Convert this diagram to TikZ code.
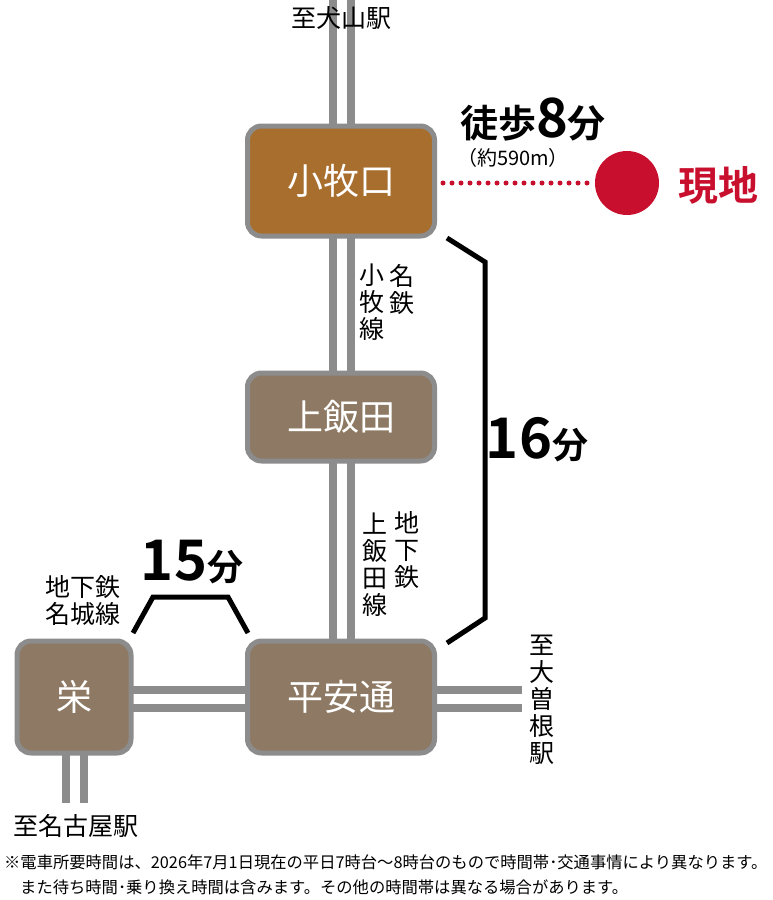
\documentclass[tikz,border=0pt]{standalone}
\usepackage{fontspec}
\setmainfont{Noto Sans CJK JP}
\newfontfamily\jpb{Noto Sans CJK JP}[BoldFont={* Bold}]
\begin{document}
\begin{tikzpicture}[x=1pt,y=-1pt,
 rail/.style={draw=railgray,line width=8pt},
 stn/.style={draw=railgray,line width=5pt,rounded corners=14pt,minimum width=187pt,text=white,font=\fontsize{36}{36}\selectfont,inner sep=0pt},
 lbl/.style={font=\fontsize{25}{27}\selectfont,inner sep=0pt},
 brk/.style={draw=black,line width=5pt}]
\definecolor{railgray}{HTML}{8C8C8C}
\definecolor{brownA}{HTML}{A86E2E}
\definecolor{brownB}{HTML}{8E7A64}
\definecolor{redA}{HTML}{C8102E}
\useasboundingbox (0,0) rectangle (772,900);
% rails
\foreach \x in {333,351} \draw[rail] (\x,0) -- (\x,700);
\foreach \y in {690,708} \draw[rail] (74,\y) -- (522,\y);
\foreach \x in {66,84} \draw[rail] (\x,700) -- (\x,803);
% stations
\node[stn,fill=brownA,minimum height=110pt] (komaki) at (341,181) {小牧口};
\node[stn,fill=brownB,minimum height=88pt] (kami) at (341,417) {上飯田};
\node[stn,fill=brownB,minimum height=112pt] (heian) at (341,697) {平安通};
\node[stn,fill=brownB,minimum height=112pt,minimum width=114pt] (sakae) at (74,697) {栄};
% labels
\node[lbl] (inu) at (341,18) {至犬山駅};
\node[lbl] (nagoya) at (76,826) {至名古屋駅};
\node[lbl,align=center] (ozone) at (542,700) {至\\大\\曽\\根\\駅};
\node[lbl,align=center] (meitetsu1) at (402,289) {名\\鉄};
\node[lbl,align=center] (meitetsu2) at (372,302) {小\\牧\\線};
\node[lbl,align=center] (kamil1) at (407,550) {地\\下\\鉄};
\node[lbl,align=center] (kamil2) at (375,565) {上\\飯\\田\\線};
\node[lbl,align=center] (meijo) at (83,601) {地下鉄\\名城線};
% walking
\node[inner sep=0pt,font=\jpb\bfseries] (walk) at (533,120) {\fontsize{38}{38}\selectfont 徒歩\fontsize{54}{54}\selectfont 8\fontsize{38}{38}\selectfont 分};
\node[inner sep=0pt,font=\fontsize{20}{20}\selectfont] (dist) at (513,158) {（約590m）};
\node[circle,fill=redA,minimum size=64pt,inner sep=0pt] (site) at (627,183) {};
\node[inner sep=0pt,text=redA,font=\jpb\bfseries\fontsize{40}{40}\selectfont] (genchi) at (718,185) {現地};
\draw[redA,line width=5pt,line cap=round,dash pattern=on 0pt off 9pt] (komaki.east) ++(6,2) -- (site.west);
% 16 min
\draw[brk] (447,238) -- (485,262) -- (485,618) -- (447,643);
\node[inner sep=0pt,font=\jpb\bfseries] (t16) at (537,440) {\fontsize{56}{56}\selectfont 16\fontsize{36}{36}\selectfont 分};
% 15 min
\draw[brk] (133,633) -- (153,597) -- (228,597) -- (248,633);
\node[inner sep=0pt,font=\jpb\bfseries] (t15) at (192,562) {\fontsize{56}{56}\selectfont 15\fontsize{36}{36}\selectfont 分};
% footnote
\node[anchor=west,inner sep=0pt,font=\fontsize{16.3}{16.3}\selectfont] (fn1) at (4,862) {※電車所要時間は、2026年7月1日現在の平日7時台～8時台のもので時間帯･交通事情により異なります。};
\node[anchor=west,inner sep=0pt,font=\fontsize{16.3}{16.3}\selectfont] (fn2) at (20,887) {また待ち時間･乗り換え時間は含みます。その他の時間帯は異なる場合があります。};
\end{tikzpicture}
\end{document}
